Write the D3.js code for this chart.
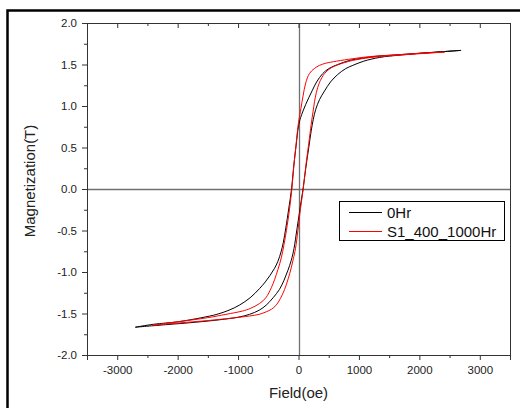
<!DOCTYPE html>
<html>
<head>
<meta charset="utf-8">
<script src="https://cdn.jsdelivr.net/npm/d3@7"></script>
<style>
  body { margin: 0; background: #fff; }
  svg { display: block; font-family: "Liberation Sans", Arial, sans-serif; }
</style>
</head>
<body>
<svg id="chart" width="520" height="408"></svg>
<script>
// hysteresis loops: [field (oe), magnetization (T)]
var seriesNames = ["0Hr", "S1_400_1000Hr"];
var seriesColors = ["#000000", "#ff0000"];

// 0Hr, descending branch then ascending branch
var loop0HrDown = [
    [2690, 1.67], [2200, 1.645], [1700, 1.62], [1300, 1.6], [1050, 1.575], [850, 1.55],
    [650, 1.5], [500, 1.45], [400, 1.39], [300, 1.29], [230, 1.19], [170, 1.1],
    [120, 1.02], [75, 0.94], [35, 0.86], [0, 0.76], [-40, 0.52], [-80, 0.27], [-115, 0],
    [-160, -0.23], [-210, -0.47], [-250, -0.64], [-290, -0.76], [-340, -0.87],
    [-400, -0.96], [-470, -1.04], [-550, -1.12], [-645, -1.2], [-800, -1.31], [-980, -1.4],
    [-1150, -1.46], [-1350, -1.51], [-1600, -1.55], [-2000, -1.6], [-2400, -1.63], [-2700, -1.665]
];
var loop0HrUp = [
    [-2700, -1.665], [-2200, -1.635], [-1700, -1.605], [-1300, -1.575], [-1000, -1.545],
    [-810, -1.51], [-650, -1.46], [-535, -1.4], [-420, -1.31], [-315, -1.21], [-240, -1.1],
    [-175, -0.98], [-120, -0.86], [-75, -0.72], [-25, -0.48], [25, -0.24], [75, 0],
    [120, 0.25], [170, 0.5], [210, 0.7], [245, 0.84], [285, 0.96], [350, 1.08],
    [430, 1.18], [530, 1.29], [650, 1.38], [780, 1.45], [900, 1.49], [1080, 1.54],
    [1340, 1.585], [1700, 1.615], [2200, 1.645], [2690, 1.67]
];

// S1_400_1000Hr
var loopS1Down = [
    [2420, 1.65], [2000, 1.635], [1500, 1.61], [1175, 1.595], [900, 1.57], [630, 1.54],
    [450, 1.515], [350, 1.49], [260, 1.45], [180, 1.39], [120, 1.28], [75, 1.12],
    [40, 0.97], [0, 0.8], [-40, 0.54], [-75, 0.29], [-110, 0], [-150, -0.25],
    [-200, -0.5], [-240, -0.67], [-285, -0.83], [-340, -0.97], [-395, -1.09],
    [-450, -1.19], [-540, -1.31], [-645, -1.38], [-800, -1.44], [-925, -1.47],
    [-1200, -1.51], [-1500, -1.55], [-2000, -1.6], [-2415, -1.64]
];
var loopS1Up = [
    [-2415, -1.64], [-2000, -1.615], [-1500, -1.585], [-1100, -1.555], [-810, -1.53],
    [-650, -1.51], [-535, -1.48], [-450, -1.45], [-370, -1.4], [-300, -1.32],
    [-230, -1.21], [-170, -1.08], [-120, -0.95], [-85, -0.84], [-50, -0.72],
    [-10, -0.5], [30, -0.25], [78, 0], [125, 0.3], [170, 0.55], [210, 0.78],
    [240, 0.93], [265, 1.05], [295, 1.16], [345, 1.28], [430, 1.39], [520, 1.45],
    [630, 1.49], [900, 1.55], [1200, 1.585], [1600, 1.61], [2000, 1.63], [2420, 1.65]
];

var xTicks = [-3000, -2000, -1000, 0, 1000, 2000, 3000];
var xMinor = [-3500, -2500, -1500, -500, 500, 1500, 2500, 3500];
var yTicks = [-2.0, -1.5, -1.0, -0.5, 0.0, 0.5, 1.0, 1.5, 2.0];
var yMinor = [-1.75, -1.25, -0.75, -0.25, 0.25, 0.75, 1.25, 1.75];

var svg = d3.select("#chart");
var plotLeft = 87, plotRight = 510, plotTop = 23, plotBottom = 355;

var x = d3.scaleLinear().domain([-3500, 3500]).range([plotLeft, plotRight]);
var y = d3.scaleLinear().domain([-2, 2]).range([plotBottom, plotTop]);

// outer frame of the figure
svg.append("rect")
    .attr("x", 7.5).attr("y", 10.5)
    .attr("width", 540).attr("height", 420)
    .attr("fill", "none")
    .attr("stroke", "#000")
    .attr("stroke-width", 2.5);

// zero lines
var y0 = Math.round(y(0)) + 0.5, x0 = Math.round(x(0)) + 0.5;
svg.append("line")
    .attr("x1", plotLeft).attr("x2", plotRight)
    .attr("y1", y0).attr("y2", y0)
    .attr("stroke", "#707070").attr("stroke-width", 1.3);
svg.append("line")
    .attr("x1", x0).attr("x2", x0)
    .attr("y1", plotTop).attr("y2", plotBottom)
    .attr("stroke", "#707070").attr("stroke-width", 1.3);

// axes
function styleAxis(g) {
    g.select(".domain").attr("stroke", "#333");
    g.selectAll(".tick line").attr("stroke", "#333");
    g.selectAll(".tick text")
        .attr("fill", "#222")
        .style("font-size", "11.5px")
        .style("font-family", "'Liberation Sans', Arial, sans-serif");
}

var fmtX = function(d) { return String(d); };
var fmtY = function(d) { return d.toFixed(1); };

svg.append("g")
    .attr("transform", "translate(0," + plotBottom + ")")
    .call(d3.axisBottom(x).tickValues(xTicks).tickSize(5).tickPadding(6).tickFormat(fmtX))
    .call(styleAxis);
svg.append("g")
    .attr("transform", "translate(0," + plotBottom + ")")
    .call(d3.axisBottom(x).tickValues(xMinor).tickSize(3).tickFormat(""))
    .call(styleAxis);

svg.append("g")
    .attr("transform", "translate(" + plotLeft + ",0)")
    .call(d3.axisLeft(y).tickValues(yTicks).tickSize(5).tickPadding(5).tickFormat(fmtY))
    .call(styleAxis);
svg.append("g")
    .attr("transform", "translate(" + plotLeft + ",0)")
    .call(d3.axisLeft(y).tickValues(yMinor).tickSize(3).tickFormat(""))
    .call(styleAxis);

// top axis: ticks pointing inward, no labels
svg.append("g")
    .attr("transform", "translate(0," + plotTop + ")")
    .call(d3.axisBottom(x).tickValues(xTicks).tickSize(5).tickFormat(""))
    .call(styleAxis);
svg.append("g")
    .attr("transform", "translate(0," + plotTop + ")")
    .call(d3.axisBottom(x).tickValues(xMinor).tickSize(3).tickFormat(""))
    .call(styleAxis);

// right axis: plain line
svg.append("g")
    .attr("transform", "translate(" + plotRight + ",0)")
    .call(d3.axisRight(y).tickValues([]).tickSizeOuter(0))
    .call(styleAxis);

// loops
var line = d3.line()
    .x(function(d) { return x(d[0]); })
    .y(function(d) { return y(d[1]); })
    .curve(d3.curveCatmullRom.alpha(0.5));

var loops = [
    [loop0HrDown, loop0HrUp],
    [loopS1Down, loopS1Up]
];

loops.forEach(function(branches, i) {
    branches.forEach(function(branch) {
        svg.append("path")
            .datum(branch)
            .attr("d", line)
            .attr("fill", "none")
            .attr("stroke", seriesColors[i])
            .attr("stroke-width", 1);
    });
});

// axis titles
svg.append("text")
    .attr("x", (plotLeft + plotRight) / 2)
    .attr("y", 398)
    .attr("text-anchor", "middle")
    .style("font-size", "15px")
    .attr("fill", "#222")
    .text("Field(oe)");

svg.append("text")
    .attr("transform", "translate(35,181) rotate(-90)")
    .attr("text-anchor", "middle")
    .style("font-size", "15px")
    .attr("fill", "#222")
    .text("Magnetization(T)");

// legend
var legend = svg.append("g");
legend.append("rect")
    .attr("x", 339.5).attr("y", 201.5)
    .attr("width", 165).attr("height", 39)
    .attr("fill", "#fff")
    .attr("stroke", "#000")
    .attr("stroke-width", 1);

seriesNames.forEach(function(name, i) {
    var ly = 212.5 + i * 19;
    legend.append("line")
        .attr("x1", 349).attr("x2", 382)
        .attr("y1", ly).attr("y2", ly)
        .attr("stroke", seriesColors[i])
        .attr("stroke-width", 1);
    legend.append("text")
        .attr("x", 387)
        .attr("y", ly + 5.5)
        .style("font-size", "15px")
        .attr("fill", "#111")
        .text(name);
});
</script>
</body>
</html>
